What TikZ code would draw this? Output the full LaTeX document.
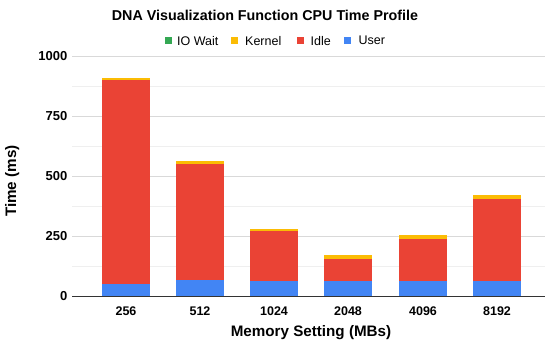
\documentclass[tikz,border=0pt]{standalone}
\usepackage{fontspec}
\setmainfont{Liberation Sans}
\definecolor{gblue}{HTML}{4285F4}
\definecolor{gred}{HTML}{EA4335}
\definecolor{gyellow}{HTML}{FBBC04}
\definecolor{ggreen}{HTML}{34A853}
\definecolor{gridmaj}{HTML}{D9D9D9}
\definecolor{gridmin}{HTML}{EFEFEF}
\definecolor{axisc}{HTML}{333333}
\begin{document}
\begin{tikzpicture}[x=1pt,y=1pt,
  yticklab/.style={font=\bfseries\fontsize{13}{15}\selectfont, text=black, inner sep=0pt},
  xticklab/.style={font=\bfseries\fontsize{12.5}{14}\selectfont, text=black, inner sep=0pt},
  leglab/.style={font=\fontsize{12.5}{14}\selectfont, anchor=west, inner sep=0pt},
  legsq/.style={minimum size=7.5pt, inner sep=0pt},
  axtitle/.style={font=\bfseries\fontsize{15.2}{17}\selectfont, inner sep=0pt}]
\useasboundingbox (0,0) rectangle (545,349);
\fill[white] (0,0) rectangle (545,349);
% y = 53 + 0.24*val
\foreach \v in {125,375,625,875}
  \draw[gridmin, line width=0.8pt] (72,{53+0.24*\v}) -- (545,{53+0.24*\v});
\foreach \v in {250,500,750,1000}
  \draw[gridmaj, line width=0.8pt] (72,{53+0.24*\v}) -- (545,{53+0.24*\v});
\foreach \v/\n in {0/t0,250/t250,500/t500,750/t750,1000/t1000}
  \node[yticklab, anchor=east] (\n) at (67.5,{53+0.24*\v}) {\v};
% bars: center, user, idle, kernel
\foreach \c/\u/\i/\k/\lab/\n in {126/48/850/10/256/x1, 200/67/482/12/512/x2, 274/62/208/10/1024/x3, 348/62/93/15/2048/x4, 423/62/175/16/4096/x5, 497/62/343/15/8192/x6}{
  \fill[gblue] (\c-24,53) rectangle (\c+24,{53+0.24*\u});
  \fill[gred] (\c-24,{53+0.24*\u}) rectangle (\c+24,{53+0.24*(\u+\i)});
  \fill[gyellow] (\c-24,{53+0.24*(\u+\i)}) rectangle (\c+24,{53+0.24*(\u+\i+\k)});
  \node[xticklab] (\n) at (\c,38.3) {\lab};
}
\draw[axisc, line width=0.9pt] (72,53) -- (545,53);
\node[font=\bfseries\fontsize{14.3}{16}\selectfont, inner sep=0pt] (title) at (265,334) {DNA Visualization Function CPU Time Profile};
\node[legsq, fill=ggreen] (lg1) at (168.7,308.3) {};
\node[leglab] (lt1) at (177,308.3) {IO Wait};
\node[legsq, fill=gyellow] (lg2) at (234.7,308.3) {};
\node[leglab] (lt2) at (245,308.3) {Kernel};
\node[legsq, fill=gred] (lg3) at (300.3,308.3) {};
\node[leglab] (lt3) at (310.5,308.3) {Idle};
\node[legsq, fill=gblue] (lg4) at (347.7,308.3) {};
\node[leglab] (lt4) at (358.5,308.3) {User};
\node[axtitle, rotate=90] (ytitle) at (12.3,168) {Time (ms)};
\node[axtitle] (xtitle) at (311,16.3) {Memory Setting (MBs)};
\end{tikzpicture}
\end{document}
